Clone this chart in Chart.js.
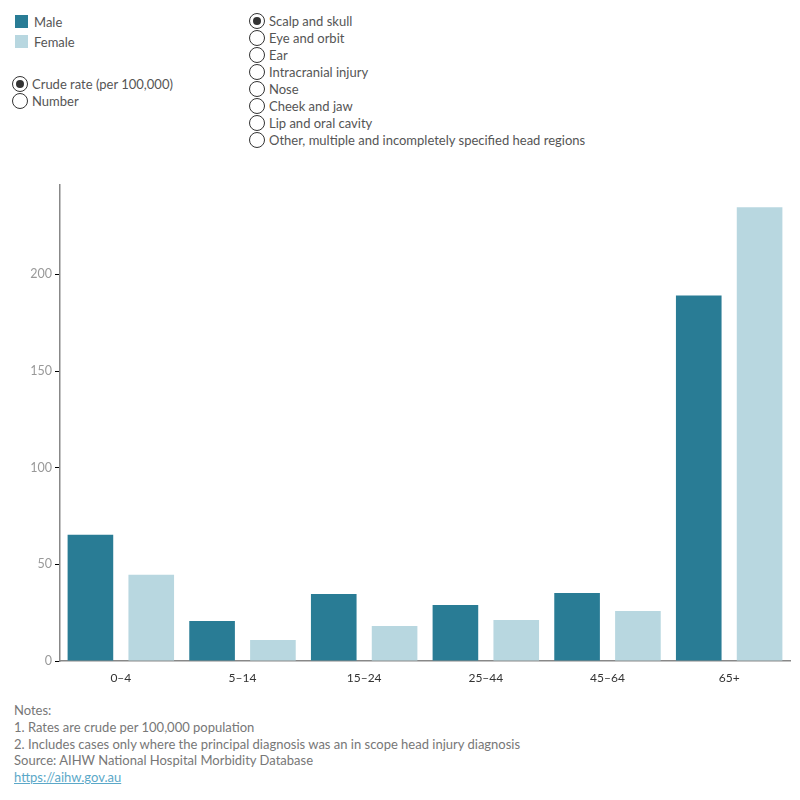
<!DOCTYPE html>
<html><head><meta charset="utf-8">
<script src="https://cdn.jsdelivr.net/npm/chart.js@4/dist/chart.umd.min.js"></script>
<style>
body{margin:0;width:800px;height:800px;position:relative;background:#fff;font-family:Lato,"Open Sans",sans-serif;color:#555;font-size:13px;}
.sw{position:absolute;width:13px;height:13px;}
.radio{position:absolute;width:14px;height:14px;border:1.3px solid #333;border-radius:50%;background:#fff;}
.radio.on::after{content:"";position:absolute;left:3px;top:3px;width:8px;height:8px;border-radius:50%;background:#333;}
.lbl{position:absolute;white-space:nowrap;line-height:17px;}
#notes{position:absolute;left:14px;top:702px;line-height:16.8px;color:#777;font-size:13px;}
#notes a{color:#5ba8c8;text-decoration:underline;}
#wrap{position:absolute;left:0;top:174px;width:800px;height:517px;}
</style></head><body>
<div class="sw" style="left:15px;top:15px;background:#297c95"></div><div class="lbl" style="left:34px;top:14px">Male</div>
<div class="sw" style="left:15px;top:35px;background:#b8d7e0"></div><div class="lbl" style="left:34px;top:34px">Female</div>
<div id="r1"></div><div id="r2"></div>
<div id="wrap"><canvas id="c"></canvas></div>
<div id="notes">Notes:<br>1. Rates are crude per 100,000 population<br>2. Includes cases only where the principal diagnosis was an in scope head injury diagnosis<br>Source: AIHW National Hospital Morbidity Database<br><a>https://aihw.gov.au</a></div>
<script>
const categories = ["0–4","5–14","15–24","25–44","45–64","65+"];
const maleValues = [65.3, 20.7, 34.7, 29.0, 35.2, 189.1];
const femaleValues = [44.6, 10.9, 18.1, 21.2, 25.9, 234.7];
const yTicks = [0, 50, 100, 150, 200];
const measureOptions = ["Crude rate (per 100,000)", "Number"];
const regionOptions = ["Scalp and skull","Eye and orbit","Ear","Intracranial injury","Nose","Cheek and jaw","Lip and oral cavity","Other, multiple and incompletely specified head regions"];

function radios(list, x, y0, step){
  let h='';
  list.forEach((t,i)=>{
    const cy=y0+i*step;
    h+=`<div class="radio${i===0?' on':''}" style="left:${x}px;top:${cy-8}px"></div><div class="lbl" style="left:${x+20}px;top:${cy-8}px">${t}</div>`;
  });
  return h;
}
document.getElementById('r1').innerHTML = radios(measureOptions, 12, 84, 17);
document.getElementById('r2').innerHTML = radios(regionOptions, 249, 21, 17);

new Chart(document.getElementById('c'), {
  type:'bar',
  data:{labels:categories, datasets:[
    {label:'Male', data:maleValues, backgroundColor:'#297c95'},
    {label:'Female', data:femaleValues, backgroundColor:'#b8d7e0'}
  ]},
  options:{
    responsive:true, maintainAspectRatio:false, animation:false,
    layout:{padding:{top:4,right:10,left:0,bottom:0}},
    plugins:{legend:{display:false},tooltip:{enabled:false}},
    datasets:{bar:{categoryPercentage:1.0,barPercentage:0.75}},
    scales:{
      x:{
        grid:{display:true,drawOnChartArea:false,drawTicks:false,color:'rgba(0,0,0,0)'},
        border:{display:true,color:'#888',width:1.5},
        ticks:{color:'#333',font:{family:'Lato',size:12},padding:10},
        afterFit:s=>{s.height=30;}
      },
      y:{
        min:0,max:246.5,
        afterBuildTicks:s=>{s.ticks=yTicks.map(v=>({value:v}));},
        grid:{display:true,drawOnChartArea:false,drawTicks:true,tickLength:5,tickColor:'#000',color:'rgba(0,0,0,0)'},
        border:{display:true,color:'#888',width:1.5},
        ticks:{color:'#999',font:{family:'Lato',size:12.5},padding:3},
        afterFit:s=>{s.width=60;}
      }
    }
  }
});
</script>
</body></html>
